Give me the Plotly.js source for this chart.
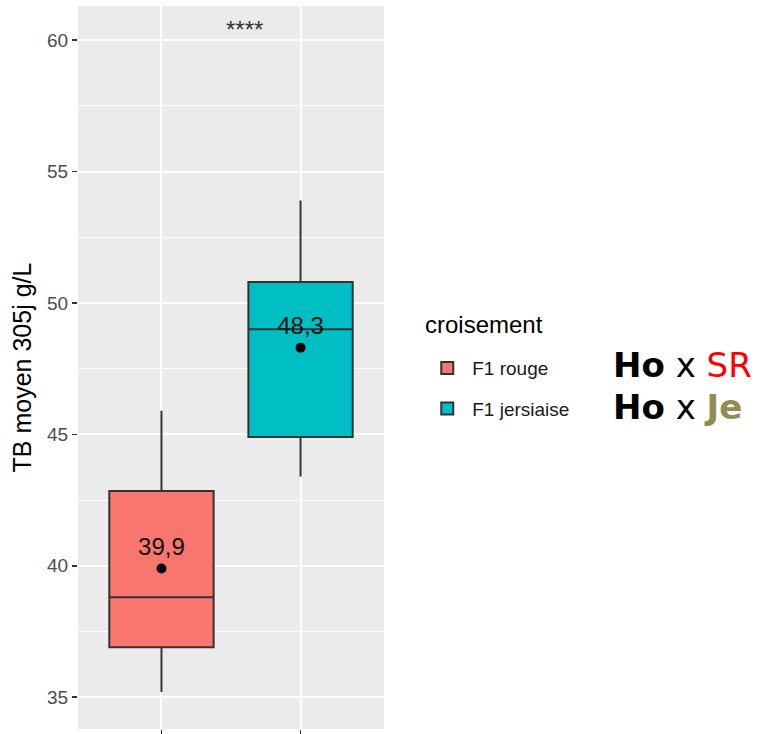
<!DOCTYPE html>
<html>
<head>
<meta charset="utf-8">
<script src="https://cdn.plot.ly/plotly-3.0.1.min.js"></script>
<style>html,body{margin:0;padding:0;background:#fff;}#chart{width:761px;height:734px;}</style>
</head>
<body>
<div id="chart"></div>
<script>
// Data
const categories = ["F1 rouge", "F1 jersiaise"];
const lowerWhisker = [35.2, 43.4];
const q1Values = [36.9, 44.9];
const medianValues = [38.8, 49.0];
const q3Values = [42.85, 50.8];
const upperWhisker = [45.9, 53.9];
const meanValues = [39.9, 48.3];
const meanLabels = ["39,9", "48,3"];
const fillColors = ["#F8766D", "#00BFC4"];
const yTickValues = [35, 40, 45, 50, 55, 60];

const FONT = "Liberation Sans, Arial, sans-serif";
const BIG = "DejaVu Sans, sans-serif";

const traces = categories.map((c, i) => ({
  type: "box",
  name: c,
  x: [c],
  q1: [q1Values[i]],
  median: [medianValues[i]],
  q3: [q3Values[i]],
  lowerfence: [lowerWhisker[i]],
  upperfence: [upperWhisker[i]],
  width: 0.75,
  whiskerwidth: 0,
  fillcolor: fillColors[i],
  line: {color: "#333333", width: 2},
  legendgroup: "g" + i,
  hoverinfo: "skip"
}));

traces.push({
  type: "scatter",
  mode: "markers+text",
  x: categories,
  y: meanValues,
  text: meanLabels,
  textposition: "top center",
  textfont: {family: FONT, size: 24, color: "#111111"},
  marker: {color: "#000000", size: 10},
  showlegend: false,
  hoverinfo: "skip"
});

const layout = {
  width: 761,
  height: 734,
  margin: {l: 78, r: 377, t: 6, b: 5},
  paper_bgcolor: "#FFFFFF",
  plot_bgcolor: "#EBEBEB",
  font: {family: FONT, color: "#000000"},
  boxmode: "overlay",
  showlegend: true,
  legend: {
    x: 1.125, xanchor: "left",
    y: 0.5255, yanchor: "top",
    font: {family: FONT, size: 19, color: "#1A1A1A"},
    traceorder: "grouped",
    tracegroupgap: 13,
    itemwidth: 40,
    bgcolor: "rgba(0,0,0,0)"
  },
  xaxis: {
    type: "category",
    categoryorder: "array",
    categoryarray: categories,
    range: [-0.6, 1.6],
    showticklabels: false,
    ticks: "outside",
    ticklen: 6,
    tickwidth: 1.5,
    tickcolor: "#333333",
    showgrid: true,
    gridcolor: "#FFFFFF",
    gridwidth: 2,
    zeroline: false,
    showline: false,
    fixedrange: true
  },
  yaxis: {
    range: [33.79, 61.3],
    tickvals: yTickValues,
    ticktext: yTickValues.map(String),
    ticks: "outside",
    ticklen: 5,
    tickwidth: 1.5,
    tickcolor: "#333333",
    tickfont: {family: FONT, size: 19, color: "#4D4D4D"},
    showgrid: true,
    gridcolor: "#FFFFFF",
    gridwidth: 2,
    minor: {dtick: 2.5, tick0: 0, showgrid: true, gridcolor: "#FFFFFF", gridwidth: 1, ticks: ""},
    zeroline: false,
    showline: false,
    title: {text: "TB moyen 305j g/L", font: {family: FONT, size: 25, color: "#000000"}, standoff: 8},
    fixedrange: true
  },
  annotations: [
    {
      text: "****", x: 0.594, y: 60.4, xref: "x", yref: "y",
      showarrow: false, font: {family: FONT, size: 24, color: "#333333"}
    },
    {
      text: "croisement", xref: "paper", yref: "paper", x: 1.1275, y: 0.5588,
      xanchor: "left", yanchor: "middle", showarrow: false,
      font: {family: FONT, size: 24, color: "#000000"}
    },
    {
      text: "<b>Ho</b> x <span style='color:#FF0000'>SR</span>",
      xref: "paper", yref: "paper", x: 1.742, y: 0.5035, xanchor: "left", yanchor: "middle",
      showarrow: false, font: {family: BIG, size: 34, color: "#000000"}
    },
    {
      text: "<b>Ho</b> x <b><span style='color:#948A54'>Je</span></b>",
      xref: "paper", yref: "paper", x: 1.742, y: 0.4454, xanchor: "left", yanchor: "middle",
      showarrow: false, font: {family: BIG, size: 34, color: "#000000"}
    }
  ]
};

Plotly.newPlot("chart", traces, layout, {staticPlot: true, displayModeBar: false});
</script>
</body>
</html>
